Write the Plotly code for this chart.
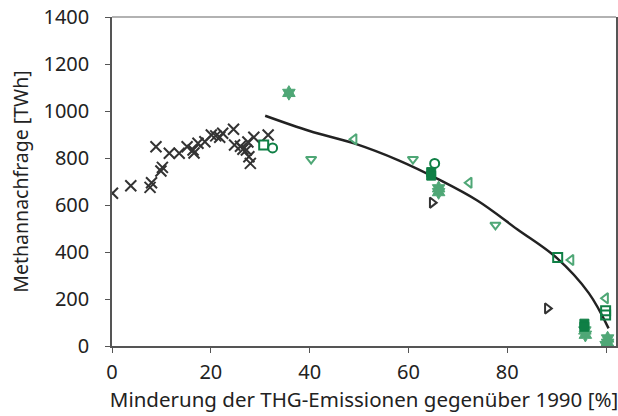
import plotly.graph_objects as go

DARK = "#0f7f45"
LIGHT = "#4fa776"
BLACK = "#333333"

# Black crosses (historic / other studies)
cross_x = [0.1, 3.8, 7.7, 8.0, 9.9, 10.2, 8.9, 11.6, 13.6, 15.2, 16.4, 16.6, 17.4, 18.8,
           20.1, 21.0, 21.8, 22.4, 24.6, 24.8, 26.5, 27.2, 27.7, 28.0, 28.7, 31.6, 26.0, 27.5]
cross_y = [650, 682, 675, 695, 745, 760, 848, 820, 820, 848, 834, 821, 863, 869,
           898, 894, 888, 905, 922, 855, 837, 834, 805, 777, 888, 898, 850, 868]

# Dark green open squares
dsq_x = [30.7, 90.2, 99.9, 99.9]
dsq_y = [855, 377, 150, 132]
# Dark green open circles
dci_x = [32.5, 65.3]
dci_y = [843, 777]
# Dark green filled squares
dfs_x = [64.6, 64.6, 95.6, 95.6]
dfs_y = [740, 725, 95, 82]
# Light green filled hexagrams
hex_x = [35.8, 66.1, 66.1, 95.7, 95.8, 100.3, 100.3, 100.0]
hex_y = [1077, 671, 655, 66, 48, 32, 14, 4]
# Light green open down-triangles
tdn_x = [40.3, 60.9, 77.6]
tdn_y = [795, 795, 515]
# Light green open left-triangles
tlf_x = [49.0, 72.3, 92.9, 99.9]
tlf_y = [880, 695, 366, 203]
# Black open right-triangles
trt_x = [64.8, 88.1]
trt_y = [610, 160]

# Trend curve
curve_x = [31, 40, 49, 58, 66, 74, 82, 90, 96.5, 100.5]
curve_y = [980, 915, 862, 790, 710, 618, 497, 375, 225, 75]

fig = go.Figure()
fig.add_trace(go.Scatter(x=cross_x, y=cross_y, mode="markers",
                         marker=dict(symbol="x-thin-open", size=11, color=BLACK,
                                     line=dict(color=BLACK, width=2))))
fig.add_trace(go.Scatter(x=curve_x, y=curve_y, mode="lines",
                         line=dict(color="#222222", width=2.5, shape="spline")))
fig.add_trace(go.Scatter(x=hex_x, y=hex_y, mode="markers",
                         marker=dict(symbol="hexagram", size=11, color=LIGHT, line=dict(color=LIGHT, width=1))))
fig.add_trace(go.Scatter(x=tdn_x, y=tdn_y, mode="markers",
                         marker=dict(symbol="triangle-down-open", size=9, color=LIGHT, line=dict(color=LIGHT, width=2))))
fig.add_trace(go.Scatter(x=tlf_x, y=tlf_y, mode="markers",
                         marker=dict(symbol="triangle-left-open", size=9, color=LIGHT, line=dict(color=LIGHT, width=2))))
fig.add_trace(go.Scatter(x=trt_x, y=trt_y, mode="markers",
                         marker=dict(symbol="triangle-right-open", size=9, color=BLACK, line=dict(color=BLACK, width=2))))
fig.add_trace(go.Scatter(x=dfs_x, y=dfs_y, mode="markers",
                         marker=dict(symbol="square", size=9, color=DARK, line=dict(color=DARK, width=1))))
fig.add_trace(go.Scatter(x=dsq_x, y=dsq_y, mode="markers",
                         marker=dict(symbol="square-open", size=9, color=DARK, line=dict(color=DARK, width=2))))
fig.add_trace(go.Scatter(x=dci_x, y=dci_y, mode="markers",
                         marker=dict(symbol="circle-open", size=9, color=DARK, line=dict(color=DARK, width=2))))

font_family = "Noto Sans, Open Sans, sans-serif"
fig.update_layout(
    width=618, height=416,
    margin=dict(l=112, r=2, t=17, b=70),
    paper_bgcolor="white", plot_bgcolor="white",
    showlegend=False,
    font=dict(family=font_family, size=19, color="#222222"),
    xaxis=dict(range=[0, 102], tickvals=[0, 20, 40, 60, 80, 100],
               showgrid=False, zeroline=False, showline=True, linecolor="#555555", linewidth=1.5,
               ticks="outside", ticklen=5, tickcolor="#555555", automargin=False,
               ticklabelstandoff=2,
               title=dict(text="Minderung der THG-Emissionen gegenüber 1990 [%]", standoff=4,
                          font=dict(size=20.5)),
               tickfont=dict(size=20)),
    yaxis=dict(range=[0, 1400], tickvals=[0, 200, 400, 600, 800, 1000, 1200, 1400],
               showgrid=False, zeroline=False, showline=True, linecolor="#555555", linewidth=1.5,
               mirror=True, ticks="outside", ticklen=5, tickcolor="#555555", automargin=False,
               ticklabelstandoff=12,
               title=dict(text="Methannachfrage [TWh]", standoff=10, font=dict(size=19.5)),
               tickfont=dict(size=20)),
    shapes=[dict(type="line", xref="paper", yref="paper", x0=0, x1=1, y0=1, y1=1,
                 line=dict(color="#999999", width=1.5))],
)
fig.write_html("out.html", config={"displayModeBar": False},
               post_script="document.body.style.margin='0';")
